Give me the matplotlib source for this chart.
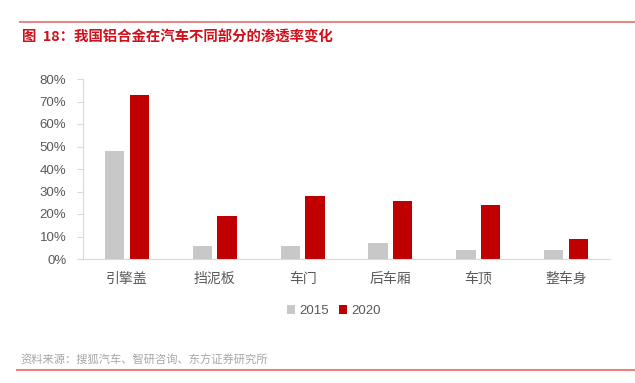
import matplotlib.pyplot as plt
import numpy as np

plt.rcParams['font.family'] = ['Noto Sans CJK SC', 'DejaVu Sans']

categories = ['引擎盖', '挡泥板', '车门', '后车厢', '车顶', '整车身']
v2015 = [48, 6, 6, 7, 4, 4]
v2020 = [73, 19, 28, 26, 24, 9]
series_names = ['2015', '2020']
yticks = [0, 10, 20, 30, 40, 50, 60, 70, 80]

title = '图  18：我国铝合金在汽车不同部分的渗透率变化'
source = '资料来源：搜狐汽车、智研咨询、东方证券研究所'

gray = '#C8C8C8'
red = '#C00000'
txt = '#595959'

fig = plt.figure(figsize=(6.35, 3.83), dpi=100)
ax = fig.add_axes([83 / 635, 1 - 259 / 383, (610 - 83) / 635, 180 / 383])

x = np.arange(len(categories))
w = 0.22
ax.bar(x - 0.14, v2015, w, color=gray, label=series_names[0])
ax.bar(x + 0.14, v2020, w, color=red, label=series_names[1])

ax.set_xlim(-0.5, len(categories) - 0.5)
ax.set_ylim(0, 80)
ax.set_yticks(yticks)
ax.set_yticklabels([f'{t}%' for t in yticks], fontsize=9.5, color=txt,
                   family=['Liberation Sans'])
ax.set_xticks(x)
ax.set_xticklabels(categories, fontsize=10, color=txt)
ax.tick_params(axis='x', length=0, pad=9)
ax.tick_params(axis='y', length=4, color='#D9D9D9', pad=8)
for s in ['top', 'right']:
    ax.spines[s].set_visible(False)
ax.spines['left'].set_color('#D9D9D9')
ax.spines['bottom'].set_color('#D9D9D9')

leg = fig.legend(loc='center', bbox_to_anchor=(334 / 635, 1 - 311 / 383), ncol=2,
                 frameon=False, handlelength=0.6, handleheight=0.6,
                 handletextpad=0.3, columnspacing=0.8,
                 prop={'family': ['Liberation Sans'], 'size': 9.5})
for t in leg.get_texts():
    t.set_color(txt)

fig.add_artist(plt.Line2D([20 / 635, 1], [1 - 22 / 383] * 2, color='#E08A8A', lw=1.5))
fig.add_artist(plt.Line2D([17 / 635, 1], [1 - 370 / 383] * 2, color='#F08080', lw=1.5))
fig.text(22 / 635, 1 - 38 / 383, title, color='#D0101B', fontsize=10.4, fontweight='bold',
         va='center', ha='left')
fig.text(20 / 635, 1 - 360 / 383, source, color='#A6A6A6', fontsize=8.1,
         va='center', ha='left')

fig.savefig('out.png', dpi=100)
